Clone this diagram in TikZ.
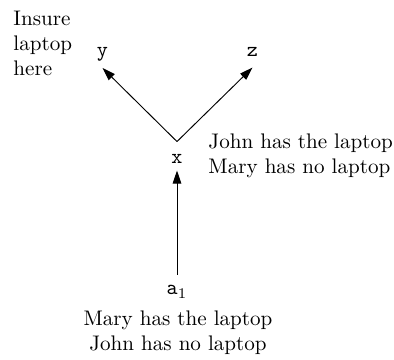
\documentclass[tikz,border=0pt]{standalone}
\usetikzlibrary{arrows.meta}
\begin{document}
\begin{tikzpicture}[x=0.474pt,y=-0.474pt,
  lbl/.style={font=\ttfamily, inner sep=0pt, anchor=base},
  txt/.style={inner sep=0pt, anchor=base west, align=left},
  ctxt/.style={inner sep=0pt, anchor=base, align=center},
  arr/.style={-{Triangle[length=6.2pt,width=4pt]}, line width=0.45pt}]
\useasboundingbox (0,0) rectangle (394,360);
\node[lbl, text depth=5pt] (y) at (102.5,57) {y};
\node[lbl, text depth=4.8pt] (z) at (252.5,57) {z};
\node[lbl, text height=10.2pt, text depth=3.1pt] (x) at (177,163.5) {x};
\node[lbl, text height=9.5pt] (a1) at (177,295) {a$_1$};
\draw[arr] (a1.north) -- (x.south);
\draw[arr] (x.north) -- (y.south);
\draw[arr] (x.north) -- (z.south);
\node[txt] (ins) at (13,76) {Insure\\laptop\\here};
\node[txt] (jl) at (208,173.5) {John has the laptop\\Mary has no laptop};
\node[ctxt] (ml) at (178,351) {Mary has the laptop\\John has no laptop};
\end{tikzpicture}
\end{document}
